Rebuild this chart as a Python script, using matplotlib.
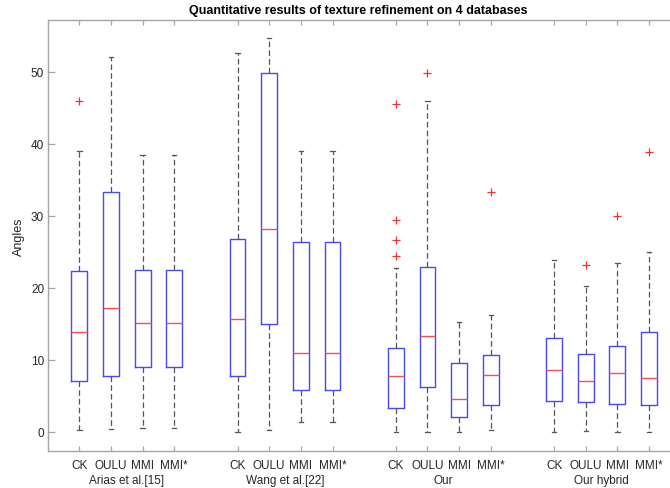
import matplotlib

matplotlib.use("Agg")
import matplotlib.pyplot as plt
from matplotlib.transforms import blended_transform_factory

# Box statistics (angles in degrees).
methods = ["Arias et al.[15]", "Wang et al.[22]", "Our", "Our hybrid"]
databases = ["CK", "OULU", "MMI", "MMI*"]

whislo = [0.3, 0.4, 0.5, 0.5,
          0.0, 0.2, 1.3, 1.3,
          0.0, 0.0, 0.0, 0.3,
          0.0, 0.1, 0.0, 0.0]
q1 = [7.0, 7.7, 9.0, 9.0,
      7.7, 14.9, 5.75, 5.75,
      3.3, 6.25, 2.0, 3.7,
      4.3, 4.1, 3.85, 3.65]
med = [13.85, 17.2, 15.05, 15.05,
       15.7, 28.2, 11.0, 11.0,
       7.7, 13.25, 4.6, 7.9,
       8.57, 7.04, 8.15, 7.4]
q3 = [22.3, 33.3, 22.4, 22.4,
      26.8, 49.9, 26.4, 26.4,
      11.6, 22.9, 9.55, 10.7,
      13.05, 10.8, 11.85, 13.8]
whishi = [39.0, 52.0, 38.5, 38.5,
          52.6, 54.7, 39.0, 39.0,
          22.7, 45.9, 15.2, 16.2,
          23.85, 20.3, 23.5, 24.95]
fliers = [[45.9], [], [], [],
          [], [], [], [],
          [45.5, 29.4, 26.6, 24.4], [49.9], [], [33.25],
          [], [23.2], [30.0], [38.9]]

# 4 boxes per method, one empty slot between groups
positions = [g * 5 + i + 1 for g in range(len(methods)) for i in range(len(databases))]

stats = []
for k in range(len(positions)):
    stats.append({
        "whislo": whislo[k], "q1": q1[k], "med": med[k], "q3": q3[k],
        "whishi": whishi[k], "fliers": fliers[k],
    })

plt.rcParams["font.family"] = ["Liberation Sans", "DejaVu Sans"]
plt.rcParams["font.size"] = 8.5

fig = plt.figure(figsize=(6.7, 4.89), dpi=100)
ax = fig.add_axes([48.3 / 670, (489 - 451.7) / 489, (669 - 48.3) / 670, (451.7 - 21) / 489])

ax.bxp(
    stats, positions=positions, widths=0.5, capwidths=0.14,
    boxprops=dict(color="#4747ff", linewidth=1.0),
    medianprops=dict(color="#ff4d4d", linewidth=1.0),
    whiskerprops=dict(color="#555555", linewidth=0.9, linestyle=(0, (4.5, 2.5))),
    capprops=dict(color="#555555", linewidth=0.9),
    flierprops=dict(marker="+", markeredgecolor="#ff2b2b", markersize=6, markeredgewidth=0.9),
    manage_ticks=False,
)

ax.set_xlim(0.02, 19.63)
ax.set_ylim(-2.64, 57.2)
ax.set_yticks([0, 10, 20, 30, 40, 50])
ax.set_xticks(positions)
ax.set_xticklabels(databases * len(methods))

for side in ["left", "bottom", "top"]:
    ax.spines[side].set_color("#a6a6a6")
    ax.spines[side].set_linewidth(1.0)
ax.spines["right"].set_visible(False)
ax.tick_params(axis="both", direction="in", colors="#a6a6a6", labelcolor="#262626",
               labelsize=8.5, width=0.9)
ax.tick_params(axis="x", length=3.5, pad=6, top=True)
ax.tick_params(axis="y", length=5, pad=3)

# group labels under the database names
trans = blended_transform_factory(ax.transData, fig.transFigure)
for g, name in enumerate(methods):
    center = g * 5 + 2.5
    ax.text(center, (489 - 481) / 489, name, transform=trans, ha="center", va="center",
            fontsize=8.5, color="#262626")

ax.set_ylabel("Angles", fontsize=9, color="#262626", labelpad=4)
ax.set_title("Quantitative results of texture refinement on 4 databases",
             fontsize=9, fontweight="bold", color="#000000", pad=5)

fig.savefig("out.png", dpi=100)
